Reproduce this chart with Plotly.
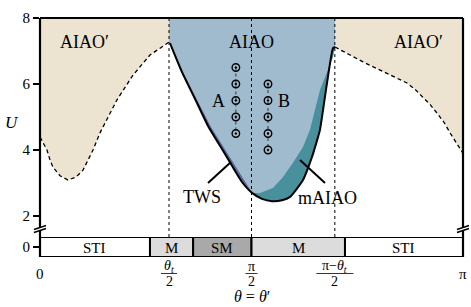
import numpy as np
import plotly.graph_objects as go

PI = np.pi

# ---------------- data (theta in units of pi, U) ----------------
left_th = [0.0, 0.0071, 0.0165, 0.0236, 0.0307, 0.0473, 0.0662, 0.0851, 0.1017,
           0.1253, 0.1418, 0.1820, 0.2199, 0.2600, 0.2837, 0.3050]
left_U = [4.39, 4.21, 4.00, 3.70, 3.48, 3.22, 3.09, 3.18, 3.39,
          4.00, 4.52, 5.52, 6.27, 6.88, 7.10, 7.27]

right_th = [0.6974, 0.7021, 0.7329, 0.7636, 0.7920, 0.8203, 0.8440, 0.8676, 0.8865,
            0.9054, 0.9220, 0.9385, 0.9551, 0.9693, 0.9835, 1.0]
right_U = [7.12, 7.09, 6.88, 6.67, 6.50, 6.33, 6.19, 6.03, 5.84,
           5.61, 5.38, 5.12, 4.84, 4.52, 4.24, 3.90]

outer_th = [0.3050, 0.3073, 0.3357, 0.3664, 0.3972, 0.4303, 0.4539, 0.4775, 0.5012,
            0.5248, 0.5485, 0.5721, 0.5910, 0.6217, 0.6430, 0.6572, 0.6619, 0.6785,
            0.6927, 0.6974]
outer_U = [7.27, 7.24, 6.36, 5.55, 4.73, 4.03, 3.52, 3.03, 2.70,
           2.52, 2.45, 2.48, 2.58, 3.09, 3.79, 4.39, 4.61, 6.03,
           7.09, 7.12]

teal_th = [0.5012, 0.5201, 0.5508, 0.5745, 0.5981, 0.6217, 0.6383, 0.6619, 0.6927, 0.6974]
teal_U = [2.70, 2.70, 2.85, 3.18, 3.61, 4.09, 4.61, 5.82, 6.82, 7.12]

tws_th = [0.3097, 0.3392, 0.3712, 0.4043, 0.4374, 0.4634, 0.4870, 0.5035]
tws_U = [7.18, 6.33, 5.52, 4.70, 4.00, 3.48, 3.00, 2.67]

A_th = 0.463
A_U = [6.5, 6.0, 5.5, 5.0, 4.5]
B_th = 0.539
B_U = [6.0, 5.5, 5.0, 4.5, 4.0]

band_edges = [0.0, 0.260, 0.362, 0.5, 0.721, 1.0]
band_labels = ["STI", "M", "SM", "M", "STI"]
band_colors = ["#ffffff", "#dcdcdc", "#a9a9a9", "#dcdcdc", "#ffffff"]

vlines_th = [0.305, 0.5, 0.697]
xtick_th = [0.0, 0.305, 0.5, 0.697, 1.0]
ytick_vals = [2, 4, 6, 8]
U_TOP = 8.0

# ---------------- helpers ----------------
FONT = "Liberation Serif"
W, H = 471, 307
L, R, T, B = 40, 8, 18, 50


def px(x):
    return (x - L) / (W - L - R)


def py(y):
    return (H - B - y) / (H - T - B)


def th(v):
    return [a * PI for a in v] if isinstance(v, list) else v * PI


beige = "#ede3d1"
lblue = "#a0bbce"
teal = "#47909c"
navy = "#5a699c"

fig = go.Figure()

# AIAO' regions
fig.add_trace(go.Scatter(x=th(left_th + [left_th[-1], left_th[0]]),
                         y=left_U + [U_TOP, U_TOP], fill="toself", fillcolor=beige,
                         mode="lines", line=dict(width=0), hoverinfo="skip"))
fig.add_trace(go.Scatter(x=th(right_th + [right_th[-1], right_th[0]]),
                         y=right_U + [U_TOP, U_TOP], fill="toself", fillcolor=beige,
                         mode="lines", line=dict(width=0), hoverinfo="skip"))
# AIAO region
fig.add_trace(go.Scatter(x=th(outer_th + [outer_th[-1], outer_th[0]]),
                         y=outer_U + [U_TOP, U_TOP], fill="toself", fillcolor=lblue,
                         mode="lines", line=dict(width=0), hoverinfo="skip"))
# mAIAO region (teal)
i0 = outer_th.index(0.5012)
fig.add_trace(go.Scatter(x=th(outer_th[i0:] + teal_th[::-1]),
                         y=outer_U[i0:] + teal_U[::-1], fill="toself", fillcolor=teal,
                         mode="lines", line=dict(width=0), hoverinfo="skip"))
# TWS region (navy)
fig.add_trace(go.Scatter(x=th(outer_th[:i0 + 1] + tws_th[::-1]),
                         y=outer_U[:i0 + 1] + tws_U[::-1], fill="toself", fillcolor=navy,
                         mode="lines", line=dict(width=0), hoverinfo="skip"))
# boundaries
fig.add_trace(go.Scatter(x=th(left_th), y=left_U, mode="lines",
                         line=dict(color="black", width=1.3, dash="4px,3px"), hoverinfo="skip"))
fig.add_trace(go.Scatter(x=th(right_th), y=right_U, mode="lines",
                         line=dict(color="black", width=1.3, dash="4px,3px"), hoverinfo="skip"))
fig.add_trace(go.Scatter(x=th(outer_th[1:]), y=outer_U[1:], mode="lines",
                         line=dict(color="black", width=2, shape="spline", smoothing=0.5),
                         hoverinfo="skip"))
# A and B point columns
for tt, uu in [(A_th, A_U), (B_th, B_U)]:
    fig.add_trace(go.Scatter(x=[tt * PI] * len(uu), y=uu, mode="lines+markers",
                             line=dict(color="#333333", width=1, dash="dot"),
                             marker=dict(symbol="circle-open-dot", size=7.5, color="black",
                                         line=dict(width=1.4, color="black")),
                             hoverinfo="skip"))

shapes = []
# lower band
for i, lab in enumerate(band_labels):
    shapes.append(dict(type="rect", xref="x", yref="y2", x0=band_edges[i] * PI,
                       x1=band_edges[i + 1] * PI, y0=-1, y1=1, fillcolor=band_colors[i],
                       line=dict(color="black", width=2), layer="above"))
# dotted vertical lines
for v in vlines_th:
    shapes.append(dict(type="line", xref="x", yref="paper", x0=v * PI, x1=v * PI,
                       y0=py(237), y1=1, line=dict(color="black", width=1, dash="dot")))
# spines
shapes.append(dict(type="line", xref="paper", yref="paper", x0=0, x1=1, y0=1, y1=1,
                   line=dict(color="black", width=2.2)))
shapes.append(dict(type="line", xref="paper", yref="paper", x0=0, x1=0, y0=0, y1=1,
                   line=dict(color="black", width=2.2)))
shapes.append(dict(type="line", xref="paper", yref="paper", x0=1, x1=1, y0=0, y1=1,
                   line=dict(color="black", width=2.2)))
# break marks
for xc in [40, 463]:
    shapes.append(dict(type="path", xref="paper", yref="paper",
                       path="M %f %f L %f %f L %f %f L %f %f Z" % (
                           px(xc - 6), py(229.5), px(xc + 6), py(225.5),
                           px(xc + 6), py(228.5), px(xc - 6), py(232.5)),
                       fillcolor="white", line=dict(width=0)))
    for dy in [0, 3]:
        shapes.append(dict(type="line", xref="paper", yref="paper",
                           x0=px(xc - 6), y0=py(229.5 + dy), x1=px(xc + 6), y1=py(225.5 + dy),
                           line=dict(color="black", width=1.5)))
# label pointers
shapes.append(dict(type="line", xref="paper", yref="paper", x0=px(208), y0=py(183),
                   x1=px(231), y1=py(162), line=dict(color="black", width=2)))
shapes.append(dict(type="line", xref="paper", yref="paper", x0=px(300), y0=py(160),
                   x1=px(325), y1=py(183), line=dict(color="black", width=2)))

annotations = []


def ann(text, x, y, size, **kw):
    annotations.append(dict(text=text, x=px(x), y=py(y), xref="paper", yref="paper",
                            showarrow=False, xanchor="center", yanchor="middle",
                            font=dict(family=FONT, size=size, color="black"), **kw))


ann("AIAO′", 84, 42, 18)
ann("AIAO", 252, 42, 18)
ann("AIAO′", 418, 42, 18)
ann("A", 218, 101, 18)
ann("B", 284, 101, 18)
ann("TWS", 202, 197, 18)
ann("mAIAO", 327, 198, 18)
ann("<i>U</i>", 12, 122, 17)
ann("<i>θ</i> = <i>θ</i>′", 252, 296, 16)

# band labels
for i, lab in enumerate(band_labels):
    xc = (band_edges[i] + band_edges[i + 1]) / 2 * (W - L - R) + L
    ann(lab, xc, 248, 15)

# x tick labels (fractions)
xpx = [L + t * (W - L - R) for t in xtick_th]
ann("0", xpx[0], 274, 15)
ann("π", xpx[4], 274, 15)
fracs = [("<i>θ<sub>t</sub></i>", 16), ("π", 12), ("π−<i>θ<sub>t</sub></i>", 37)]
for (num, bw), xc in zip(fracs, xpx[1:4]):
    ann(num, xc, 266, 14)
    ann("2", xc, 281, 14)
    shapes.append(dict(type="line", xref="paper", yref="paper", x0=px(xc - bw / 2),
                       x1=px(xc + bw / 2), y0=py(273.5), y1=py(273.5),
                       line=dict(color="black", width=0.8)))

fig.update_layout(
    width=W, height=H, autosize=False,
    margin=dict(l=L, r=R, t=T, b=B, pad=0, autoexpand=False),
    paper_bgcolor="white", plot_bgcolor="white",
    showlegend=False,
    xaxis=dict(range=[0, PI], anchor="y2", showticklabels=False, showgrid=False,
               zeroline=False, showline=False, ticks="", automargin=False),
    yaxis=dict(domain=[py(231), 1], range=[8 - (231 - 18) / 33.0, U_TOP],
               tickvals=ytick_vals, ticks="outside", ticklen=6, tickwidth=1.5,
               tickcolor="black", showgrid=False, zeroline=False, showline=False,
               automargin=False,
               tickfont=dict(family=FONT, size=15, color="black")),
    yaxis2=dict(domain=[0, py(237)], range=[-1, 1], tickvals=[0], ticks="outside",
                ticklen=6, tickwidth=1.5, tickcolor="black", showgrid=False,
                zeroline=False, showline=False, automargin=False,
                tickfont=dict(family=FONT, size=15, color="black")),
    shapes=shapes, annotations=annotations,
)

fig.write_html("out.html", config={"displayModeBar": False},
               post_script="document.body.style.margin='0px';document.body.style.padding='0px';")
